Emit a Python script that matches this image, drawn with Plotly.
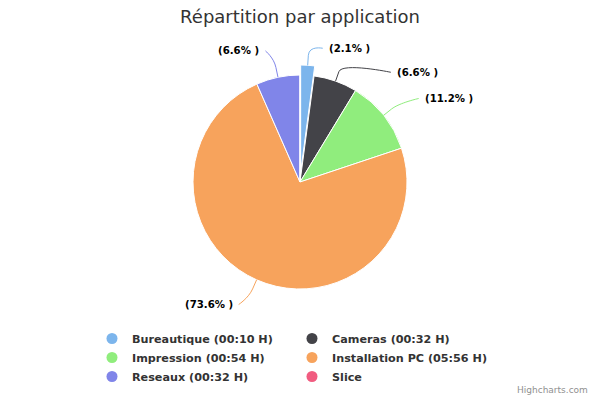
import math
import plotly.graph_objects as go

# ---- data ----
categories = ["Bureautique", "Cameras", "Impression", "Installation PC", "Reseaux", "Slice"]
durations = ["00:10 H", "00:32 H", "00:54 H", "05:56 H", "00:32 H", ""]
percent_values = [2.1, 6.6, 11.2, 73.6, 6.6, 0.0]
sliced = [True, False, False, False, False, False]

# ---- style ----
colors = ["#7cb5ec", "#434348", "#90ed7d", "#f7a35c", "#8085e9", "#f15c80"]
FONT = "DejaVu Sans"
W, H = 600, 400
CX, CY, R = 300, 182, 107
SLICE_OFFSET = 10
PULL = SLICE_OFFSET / R
ML, MR = 90, 90
half = R * (1 + PULL)
MT = CY - half
MB = H - (CY + half)
PW = W - ML - MR
PH = H - MT - MB
LABEL_DIST = 27
MIN_GAP = 24


def px(x):
    return (x - ML) / PW


def py(y):
    return (H - MB - y) / PH


pulls = [PULL if s else 0 for s in sliced]

fig = go.Figure()
fig.add_trace(go.Pie(
    labels=categories, values=percent_values, sort=False, direction="clockwise",
    rotation=0, pull=pulls, textinfo="none", showlegend=False,
    marker=dict(colors=colors, line=dict(color="#ffffff", width=1)),
    hoverinfo="label+percent",
))

# legend entries (circle symbols)
for name, dur, col in zip(categories, durations, colors):
    label = f"{name} ({dur})" if dur else name
    fig.add_trace(go.Scatter(x=[None], y=[None], mode="markers", name=label,
                             marker=dict(color=col, size=11, symbol="circle")))

# ---- data labels with connectors ----
total = sum(percent_values)
cum = 0
items = []
for i, v in enumerate(percent_values):
    if v <= 0:
        cum += v
        continue
    mid = (cum + v / 2) / total * 2 * math.pi
    cum += v
    s, c = math.sin(mid), math.cos(mid)
    off = SLICE_OFFSET if sliced[i] else 0
    touch = (CX + (R + off) * s, CY - (R + off) * c)
    brk = (CX + (R + off + 10) * s, CY - (R + off + 10) * c)
    ny = CY - (R + LABEL_DIST) * c
    items.append(dict(i=i, right=s >= 0, y=ny, touch=touch, brk=brk, v=v))

for side in (True, False):
    grp = sorted([it for it in items if it["right"] == side], key=lambda d: d["y"])
    prev = None
    for it in grp:
        if prev is not None and it["y"] < prev + MIN_GAP:
            it["y"] = prev + MIN_GAP
        prev = it["y"]

Rl = R + LABEL_DIST
for it in items:
    dy = it["y"] - CY
    dx = math.sqrt(max(Rl ** 2 - dy ** 2, 0))
    if it["right"]:
        lx = CX + dx + 18
        end = (lx - 4, it["y"])
        anchor = "left"
    else:
        lx = CX - dx - 11
        end = (lx + 4, it["y"])
        anchor = "right"
    t, b = it["touch"], it["brk"]
    c1 = (2 * b[0] - t[0], 2 * b[1] - t[1])
    pts = [t, b, c1, end, end]
    path = (f"M {px(pts[0][0]):.4f},{py(pts[0][1]):.4f} L {px(pts[1][0]):.4f},{py(pts[1][1]):.4f} "
            f"C {px(pts[2][0]):.4f},{py(pts[2][1]):.4f} {px(pts[3][0]):.4f},{py(pts[3][1]):.4f} "
            f"{px(pts[4][0]):.4f},{py(pts[4][1]):.4f}")
    fig.add_shape(type="path", path=path, xref="paper", yref="paper",
                  line=dict(color=colors[it["i"]], width=1))
    fig.add_annotation(x=px(lx), y=py(it["y"]), xref="paper", yref="paper",
                       text=f"<b>({it['v']}% )</b>",
                       showarrow=False, xanchor=anchor, yanchor="middle",
                       font=dict(family=FONT, size=10.2, color="#000000"))

fig.add_annotation(x=px(590), y=py(390), xref="paper", yref="paper", text="Highcharts.com",
                   showarrow=False, xanchor="right", yanchor="middle",
                   font=dict(family=FONT, size=9, color="#909090"))

fig.update_layout(
    width=W, height=H, autosize=False,
    margin=dict(l=ML, r=MR, t=MT, b=MB, pad=0, autoexpand=False),
    paper_bgcolor="#ffffff", plot_bgcolor="#ffffff",
    title=dict(text="Répartition par application", x=0.5, xanchor="center",
               y=1 - 17 / H, yanchor="middle", yref="container",
               font=dict(family=FONT, size=18, color="#333333")),
    xaxis=dict(visible=False, range=[0, 1], fixedrange=True),
    yaxis=dict(visible=False, range=[0, 1], fixedrange=True),
    showlegend=True,
    legend=dict(orientation="h", x=px(92), xanchor="left",
                y=py(324), yanchor="top",
                entrywidth=155, entrywidthmode="pixels",
                font=dict(family=FONT, size=11.2, color="#333333", weight="bold"),
                bgcolor="rgba(0,0,0,0)", itemclick=False),
    hovermode="closest",
)

fig.write_html("out.html")
